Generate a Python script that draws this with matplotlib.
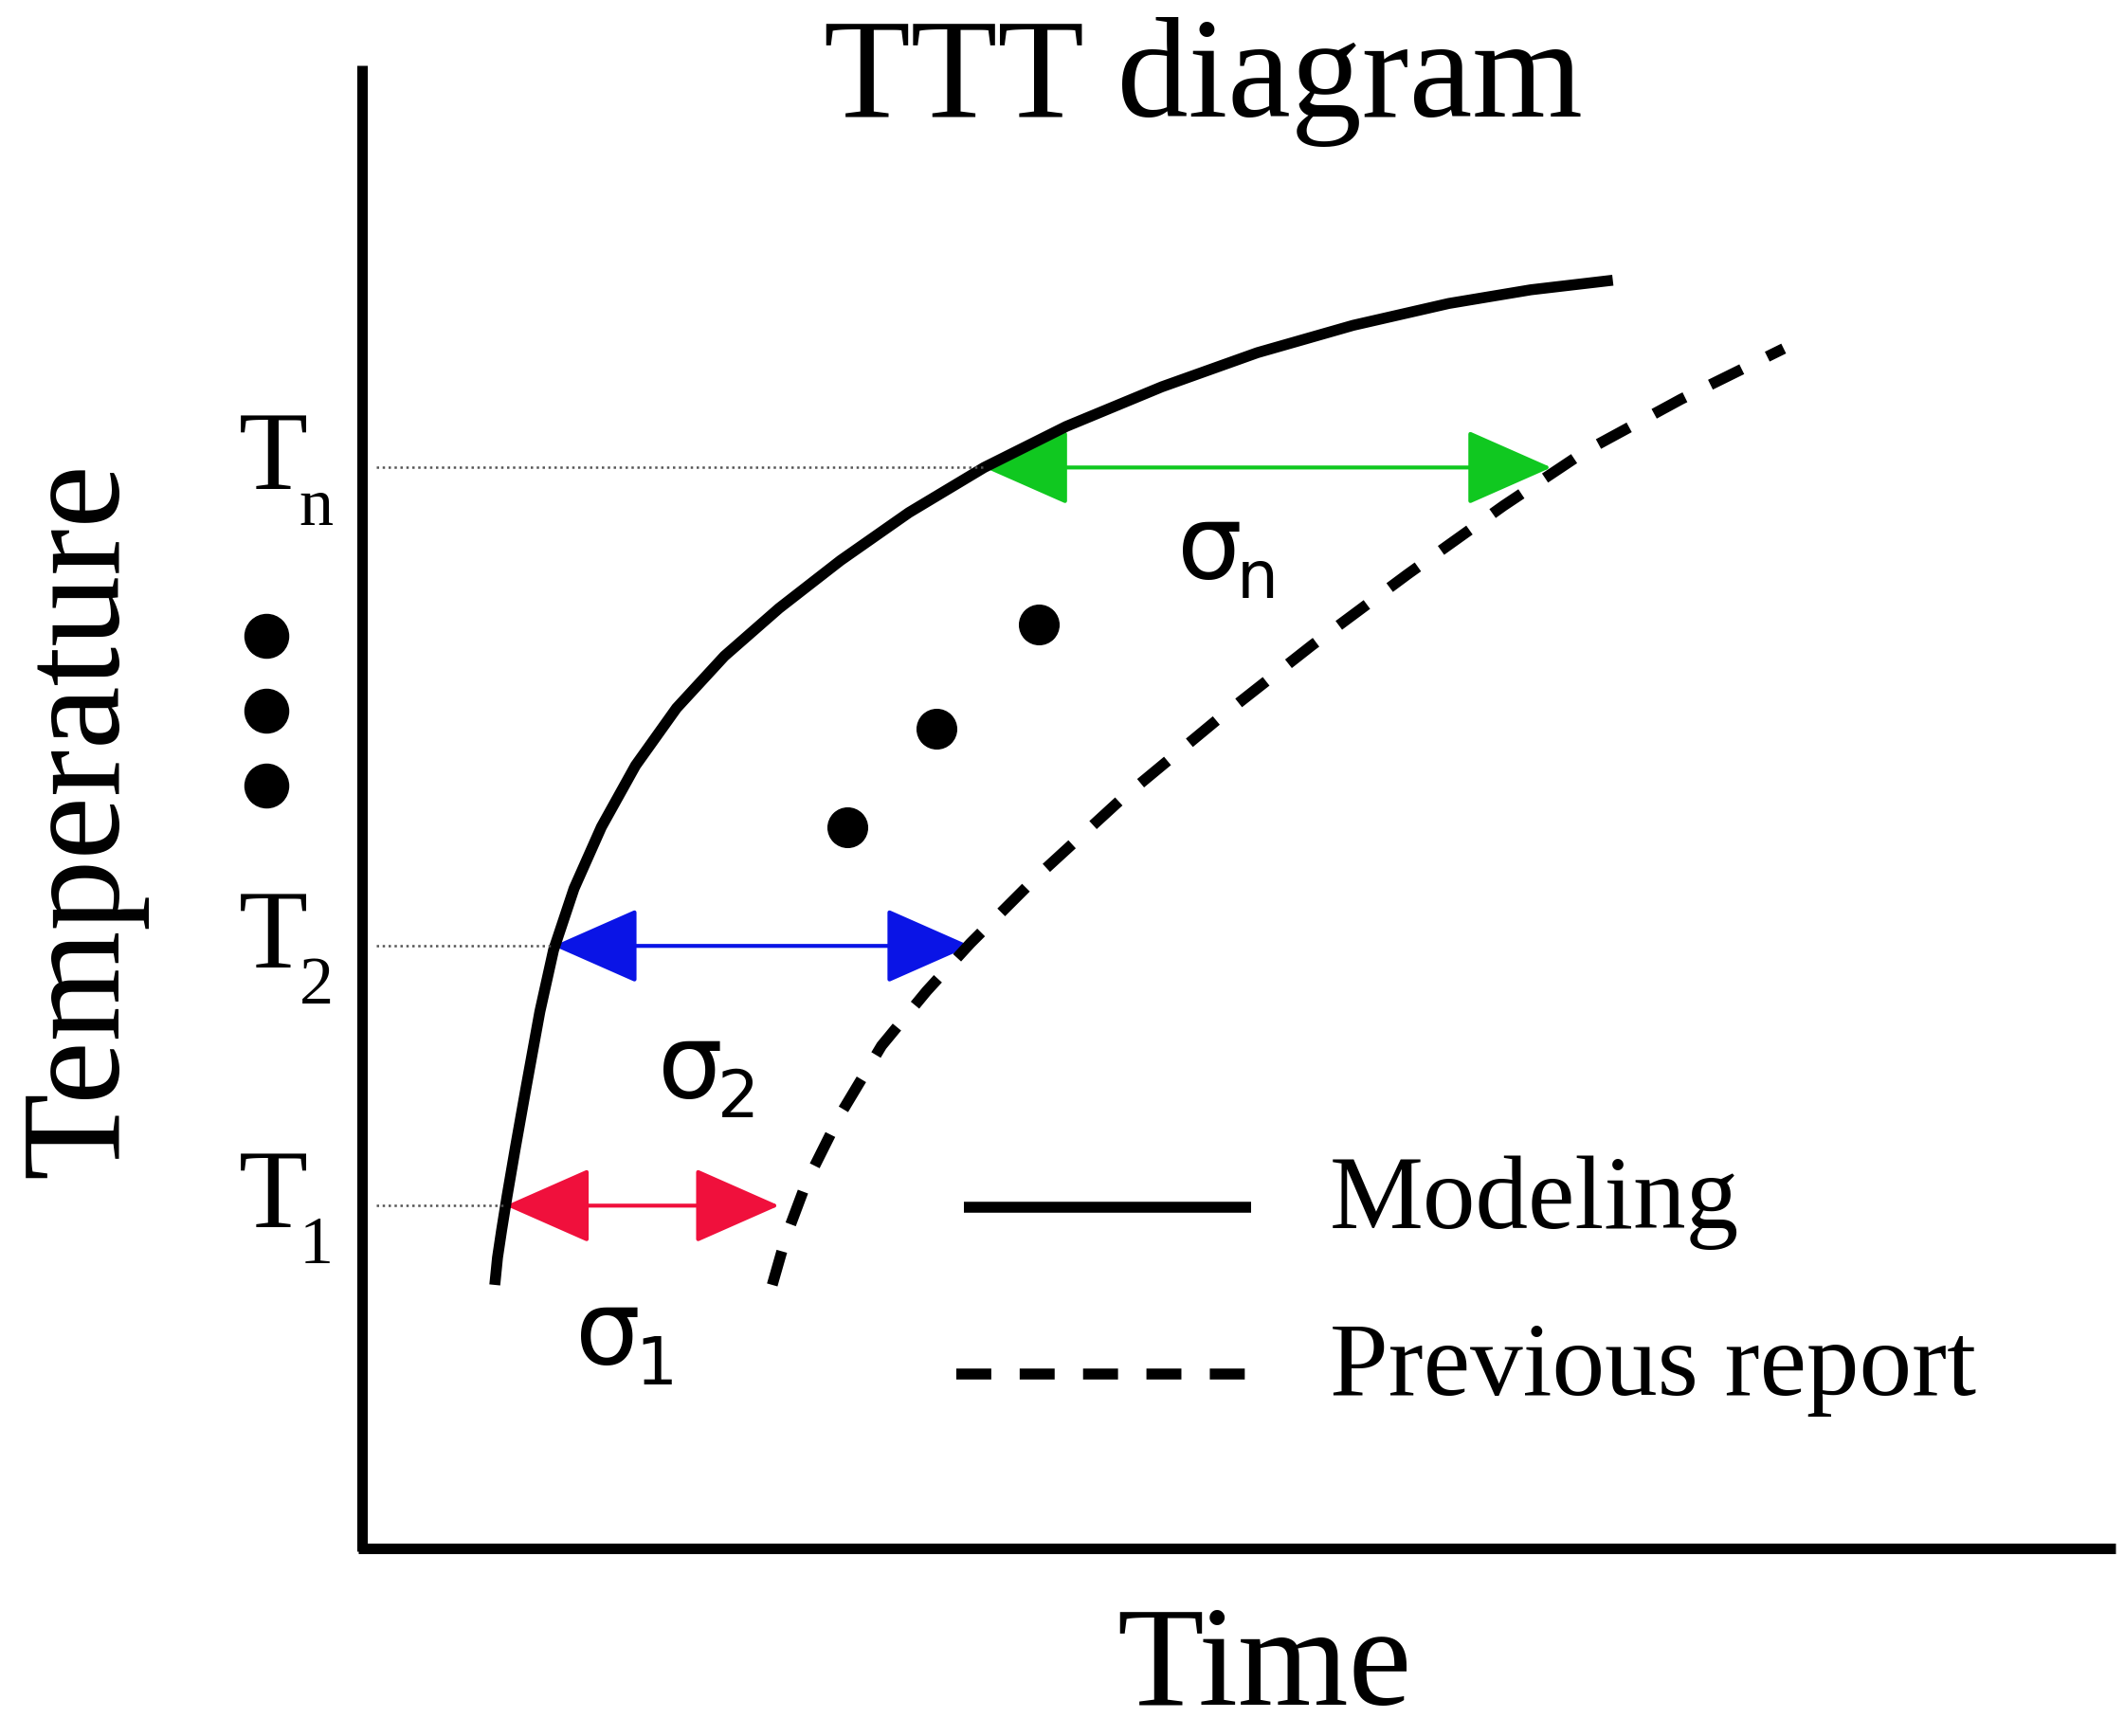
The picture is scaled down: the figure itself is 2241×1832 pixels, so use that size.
import matplotlib
matplotlib.use("Agg")
import matplotlib.pyplot as plt
from matplotlib.patches import FancyArrowPatch

# schematic coordinates (reference pixel space, y downwards)
model_x = [362, 364, 367, 371, 377, 385, 395, 405, 420, 440, 465, 495, 530, 570, 615, 665, 720,
           780, 850, 920, 990, 1060, 1120, 1180]
model_y = [940, 920, 900, 875, 840, 795, 740, 695, 650, 605, 560, 518, 480, 445, 410, 375, 342,
           312, 283, 258, 238, 222, 212, 205]
prev_x = [565, 575, 590, 615, 645, 678, 710, 760, 820, 890, 960, 1030, 1100, 1160, 1230, 1305]
prev_y = [940, 905, 865, 815, 765, 725, 690, 640, 585, 527, 472, 420, 370, 330, 292, 255]
levels_y = [882, 692, 342]
level_labels = ["1", "2", "n"]
arrow_x0 = [370, 405, 720]
arrow_x1 = [570, 710, 1135]
arrow_colors = ["#f0103c", "#0a14e6", "#10c820"]
sigma_pos = [(455, 985), (515, 790), (895, 410)]
mid_dots_x = [620, 685, 760]
mid_dots_y = [605, 533, 457]
side_dots_y = [465, 520, 575]

fig = plt.figure(figsize=(22.41, 18.32), dpi=100)
ax = fig.add_axes([0, 0, 1, 1])
ax.set_xlim(0, 1554)
ax.set_ylim(1270, 0)
ax.axis("off")
serif = "Liberation Serif"

ax.plot([265, 265], [48, 1135], color="black", lw=8, solid_capstyle="butt")
ax.plot([262, 1548], [1133, 1133], color="black", lw=8, solid_capstyle="butt")

ax.text(880, 60, "TTT diagram", family=serif, fontsize=108, ha="center", va="center")
ax.text(925, 1222, "Time", family=serif, fontsize=108, ha="center", va="center")
ax.text(60, 600, "Temperature", family=serif, fontsize=108, ha="center", va="center", rotation=90)

ax.plot(model_x, model_y, color="black", lw=8.3, solid_capstyle="butt", solid_joinstyle="round")
ax.plot(prev_x, prev_y, color="black", lw=8.3, dashes=(3.2, 2.6), dash_capstyle="butt")

for y, lab, x0, x1, c, (sx, sy) in zip(levels_y, level_labels, arrow_x0, arrow_x1, arrow_colors, sigma_pos):
    ax.plot([275, x0], [y, y], color="#555555", lw=1.8, ls=(0, (1, 1.5)))
    ax.text(200, y - 4, "T", family=serif, fontsize=86, ha="center", va="center")
    ax.text(219, y + 30, lab, family=serif, fontsize=52, ha="left", va="center")
    arr = FancyArrowPatch((x0, y), (x1, y), arrowstyle="<|-|>,head_length=1.7,head_width=0.75",
                          mutation_scale=34, color=c, lw=3, shrinkA=0, shrinkB=0)
    ax.add_patch(arr)
    ax.text(sx - 10, sy - 8, "σ", family="DejaVu Sans", fontsize=78, ha="center", va="center")
    ax.text(sx + 10, sy + 14, lab, family="DejaVu Sans", fontsize=50, ha="left", va="center")

ax.scatter(mid_dots_x, mid_dots_y, s=900, color="black")
ax.scatter([195] * 3, side_dots_y, s=1100, color="black")

ax.plot([705, 915], [883, 883], color="black", lw=8.3, solid_capstyle="butt")
ax.plot([700, 930], [1005, 1005], color="black", lw=8.3, dashes=(3.2, 2.6), dash_capstyle="butt")
ax.text(973, 880, "Modeling", family=serif, fontsize=80, ha="left", va="center")
ax.text(973, 1002, "Previous report", family=serif, fontsize=80, ha="left", va="center")

fig.savefig("out.png", dpi=100)
